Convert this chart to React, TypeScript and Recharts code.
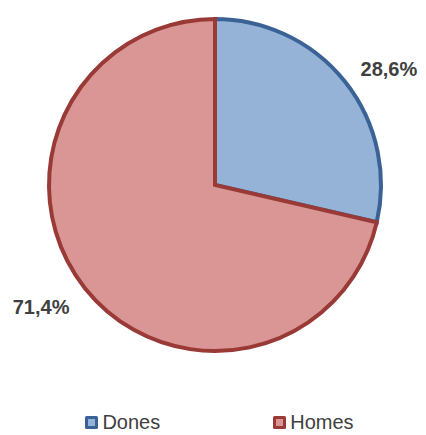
import { PieChart, Pie, Cell, Legend } from "recharts";

const categories = ["Dones", "Homes"];
const shares = [28.6, 71.4];
const shareLabels = ["28,6%", "71,4%"];

const FILLS = ["#95B3D7", "#D99694"];
const STROKES = ["#3B6296", "#993A37"];

const data = categories.map((name, i) => ({ name, value: shares[i], label: shareLabels[i] }));

const RAD = Math.PI / 180;

function renderLabel(props: any) {
  const { cx, cy, midAngle, outerRadius, index } = props;
  const r = outerRadius + 20;
  const x = cx + r * Math.cos(-midAngle * RAD);
  const y = cy + r * Math.sin(-midAngle * RAD);
  const right = x > cx;
  return (
    <text
      x={x}
      y={right ? y : y + 6}
      textAnchor={right ? "start" : "end"}
      dominantBaseline="central"
      fill="#404040"
      fontSize={20}
      fontWeight="bold"
      fontFamily="'Liberation Sans', Arial, sans-serif"
    >
      {data[index].label}
    </text>
  );
}

function renderLegend() {
  return (
    <div
      style={{
        display: "flex",
        justifyContent: "center",
        gap: 112,
        paddingLeft: 12,
        fontFamily: "'Liberation Sans', Arial, sans-serif",
        fontSize: 20,
        color: "#404040",
      }}
    >
      {categories.map((c, i) => (
        <div key={c} style={{ display: "flex", alignItems: "center" }}>
          <svg width={15} height={15} style={{ marginRight: 3 }}>
            <rect x={1} y={1} width={13} height={13} rx={1.5} fill={STROKES[i]} />
            <rect x={4} y={4} width={7} height={7} fill={FILLS[i]} />
          </svg>
          <span>{c}</span>
        </div>
      ))}
    </div>
  );
}

export default function App() {
  return (
    <div style={{ position: "absolute", left: 0, top: 0, width: 426, height: 435, background: "#fff" }}>
      <PieChart width={426} height={435} margin={{ top: 0, right: 0, bottom: 0, left: 0 }}>
        <Pie
          data={data}
          dataKey="value"
          nameKey="name"
          cx={215}
          cy={185}
          outerRadius={166}
          startAngle={90}
          endAngle={-270}
          label={renderLabel}
          labelLine={false}
          isAnimationActive={false}
        >
          {data.map((d, i) => (
            <Cell key={d.name} fill={FILLS[i]} stroke={STROKES[i]} strokeWidth={4} />
          ))}
        </Pie>
        <Legend
          content={renderLegend}
          wrapperStyle={{ position: "absolute", top: 411, left: 0, width: 426 }}
        />
      </PieChart>
    </div>
  );
}
